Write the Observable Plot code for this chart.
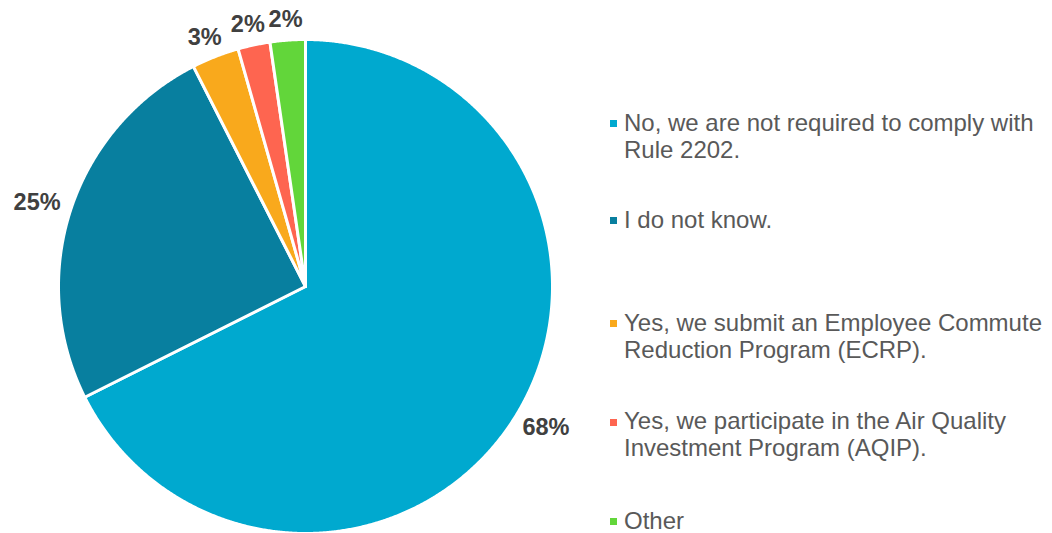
<!DOCTYPE html>
<html>
<head>
<meta charset="utf-8">
<script src="https://cdn.jsdelivr.net/npm/d3@7"></script>
<script src="https://cdn.jsdelivr.net/npm/@observablehq/plot@0.6"></script>
<style>
  html, body { margin: 0; padding: 0; background: #ffffff; }
  #wrap { position: relative; width: 1052px; height: 533px; overflow: hidden; font-family: "Liberation Sans", Arial, sans-serif; }
  #legend { position: absolute; left: 0; top: 0; }
  .item { position: absolute; left: 610px; white-space: nowrap; }
  .sw { position: absolute; left: 0; top: 10.4px; width: 7px; height: 7px; }
  .txt { position: absolute; left: 14px; top: 0; font-size: 24px; line-height: 26.7px; color: #595959; }
</style>
</head>
<body>
<div id="wrap"><div id="chart"></div><div id="legend"></div></div>
<script>
// ---- data ----
const categories = [
  "No, we are not required to comply with Rule 2202.",
  "I do not know.",
  "Yes, we submit an Employee Commute Reduction Program (ECRP).",
  "Yes, we participate in the Air Quality Investment Program (AQIP).",
  "Other"
];
const legendLines = [
  ["No, we are not required to comply with", "Rule 2202."],
  ["I do not know."],
  ["Yes, we submit an Employee Commute", "Reduction Program (ECRP)."],
  ["Yes, we participate in the Air Quality", "Investment Program (AQIP)."],
  ["Other"]
];
const values = [67.6, 24.9, 3.1, 2.1, 2.3];
const colors = ["#00A9CF", "#087F9F", "#F9A91C", "#FE6550", "#62D63A"];

// ---- layout ----
const W = 1052, H = 533;
const R = 247, cx = 305, cy = 286;
const legendTops = [110, 206.6, 310, 408.3, 507.6];

const data = categories.map((c, i) => ({category: c, value: values[i]}));
const arcs = d3.pie().sort(null).value(d => d.value)(data);

// slice outlines in unit-circle coordinates (y up)
const slicePts = [];
for (const a of arcs) {
  const c = a.data.category;
  slicePts.push({category: c, x: 0, y: 0});
  const n = Math.max(2, Math.ceil((a.endAngle - a.startAngle) / 0.005));
  for (let k = 0; k <= n; k++) {
    const t = a.startAngle + (a.endAngle - a.startAngle) * k / n;
    slicePts.push({category: c, x: Math.sin(t), y: Math.cos(t)});
  }
  slicePts.push({category: c, x: 0, y: 0});
}

// labels placed outside the slice ends: anchor a little beyond the rim,
// label box aligned away from the pie according to direction
const ctx = document.createElement("canvas").getContext("2d");
const labelFont = "bold 23.5px 'Liberation Sans', Arial, sans-serif";
ctx.font = labelFont;
const gap = 12, halfH = 9;
const labels = arcs.map(a => {
  const mid = (a.startAngle + a.endAngle) / 2;
  const ux = Math.sin(mid), uy = Math.cos(mid);
  const text = Math.round(a.data.value) + "%";
  const halfW = ctx.measureText(text).width / 2;
  const px = ux * (R + gap) + ux * halfW;
  const py = uy * (R + gap) + uy * halfH;
  return {text, x: px / R, y: py / R};
});

const chart = Plot.plot({
  width: W,
  height: H,
  margin: 0,
  style: {background: "#ffffff", overflow: "visible", fontFamily: "'Liberation Sans', Arial, sans-serif"},
  x: {domain: [-1, 1], range: [cx - R, cx + R], axis: null},
  y: {domain: [-1, 1], range: [cy + R, cy - R], axis: null},
  color: {domain: categories, range: colors},
  marks: [
    Plot.line(slicePts, {
      x: "x", y: "y", z: "category", fill: "category",
      stroke: "#ffffff", strokeWidth: 3, strokeLinejoin: "round", curve: "linear"
    }),
    Plot.text(labels, {
      x: "x", y: "y", text: "text",
      fontSize: 23.5, fontWeight: "bold", fill: "#404040", textAnchor: "middle"
    })
  ]
});
document.getElementById("chart").appendChild(chart);

// legend
const legend = document.getElementById("legend");
categories.forEach((c, i) => {
  const item = document.createElement("div");
  item.className = "item";
  item.style.top = legendTops[i] + "px";
  const sw = document.createElement("div");
  sw.className = "sw";
  sw.style.background = colors[i];
  const txt = document.createElement("div");
  txt.className = "txt";
  legendLines[i].forEach(line => {
    const l = document.createElement("div");
    l.textContent = line;
    txt.appendChild(l);
  });
  item.appendChild(sw);
  item.appendChild(txt);
  legend.appendChild(item);
});
</script>
</body>
</html>
